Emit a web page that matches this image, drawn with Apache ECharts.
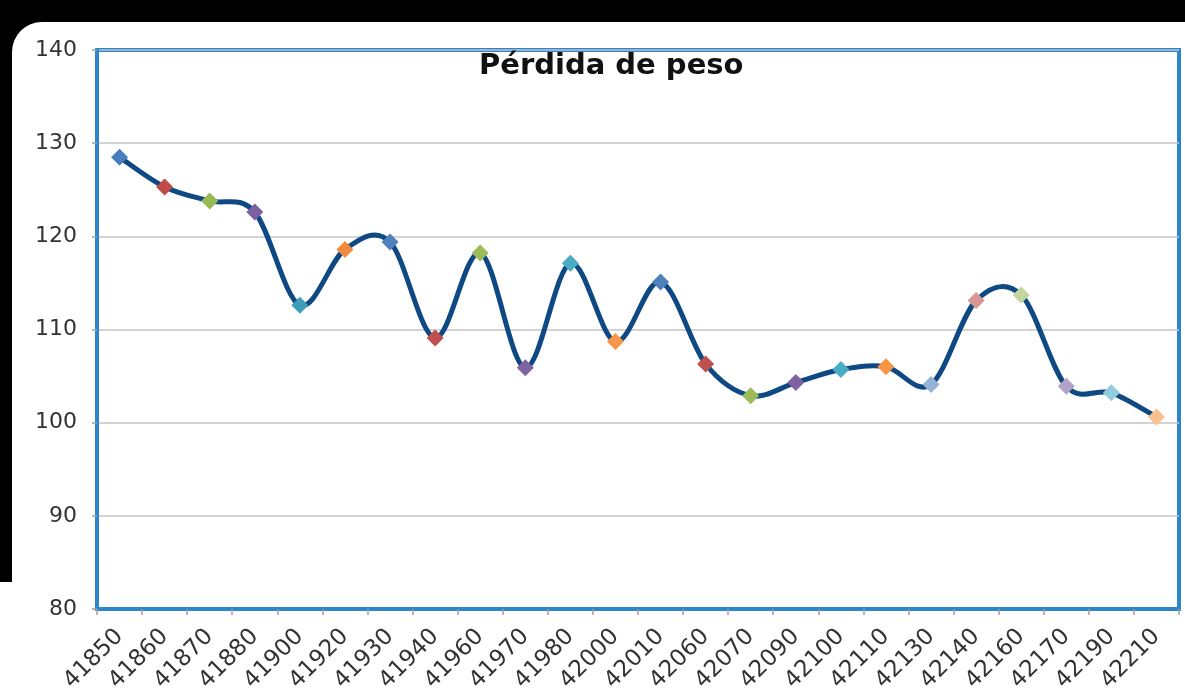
<!DOCTYPE html>
<html>
<head>
<meta charset="utf-8">
<script src="https://cdn.jsdelivr.net/npm/echarts@6/dist/echarts.min.js"></script>
<style>
html,body{margin:0;padding:0;background:#fff;}
#c{width:1185px;height:695px;}
</style>
</head>
<body>
<div id="c"></div>
<script>
const titleText = 'Pérdida de peso';
const categories = ['41850','41860','41870','41880','41900','41920','41930','41940','41960','41970','41980','42000','42010','42060','42070','42090','42100','42110','42130','42140','42160','42170','42190','42210'];
const weights = [128.5,125.3,123.8,122.6,112.6,118.6,119.4,109.1,118.2,105.9,117.1,108.7,115.1,106.3,102.9,104.3,105.7,106.0,104.1,113.1,113.7,103.9,103.2,100.6];
const yTicks = {min:80, max:140, interval:10};

const pointColors = ['#4A7EBB','#BE4B48','#98B954','#7D60A0','#3E9DB8','#F08A3C',
  '#4F81BD','#C0504D','#9BBB59','#8064A2','#4BACC6','#F79646',
  '#4F81BD','#C0504D','#9BBB59','#8064A2','#4BACC6','#F79646',
  '#95B3D7','#D99694','#C3D69B','#B3A2C7','#93CDDD','#FAC090'];

const chart = echarts.init(document.getElementById('c'));
const font = 'DejaVu Sans';

function smoothPath(params, api) {
  if (params.dataIndex !== 0) return null;
  const p = weights.map((v, i) => api.coord([i, v]));
  const n = p.length;
  let d = 'M' + p[0][0] + ' ' + p[0][1];
  for (let i = 0; i < n - 1; i++) {
    const p0 = p[Math.max(i - 1, 0)], p1 = p[i], p2 = p[i + 1], p3 = p[Math.min(i + 2, n - 1)];
    const c1x = p1[0] + (p2[0] - p0[0]) / 6, c1y = p1[1] + (p2[1] - p0[1]) / 6;
    const c2x = p2[0] - (p3[0] - p1[0]) / 6, c2y = p2[1] - (p3[1] - p1[1]) / 6;
    d += ' C' + c1x + ' ' + c1y + ' ' + c2x + ' ' + c2y + ' ' + p2[0] + ' ' + p2[1];
  }
  return {
    type: 'path',
    shape: { pathData: d },
    style: { fill: null, stroke: '#0F4984', lineWidth: 5, lineJoin: 'round', lineCap: 'round' }
  };
}

chart.setOption({
  animation:false,
  backgroundColor:'#fff',
  graphic:[
    {type:'rect', z:-10, silent:true, shape:{x:0,y:0,width:1185,height:22}, style:{fill:'#000'}},
    {type:'rect', z:-10, silent:true, shape:{x:0,y:0,width:12,height:582}, style:{fill:'#000'}},
    {type:'rect', z:-10, silent:true, shape:{x:0,y:0,width:50,height:60}, style:{fill:'#000'}},
    {type:'rect', z:-9, silent:true, shape:{x:12,y:22,width:1173,height:700,r:[30,0,0,0]}, style:{fill:'#fff'}}
  ],
  title:{
    text:titleText, left:479, top:52, padding:0,
    textStyle:{fontFamily:font, fontWeight:'bold', fontSize:29, color:'#111'}
  },
  grid:{left:97, top:50, right:6, bottom:85, show:true, borderColor:'#2B86CB', borderWidth:4, backgroundColor:'transparent'},
  xAxis:{
    type:'category', data:categories, boundaryGap:true,
    axisLine:{show:true, lineStyle:{color:'#2B86CB', width:4}},
    axisTick:{show:true, alignWithLabel:false, length:6, lineStyle:{color:'#A0A0A0', width:1.5}},
    axisLabel:{rotate:45, margin:24, interval:0, fontFamily:font, fontSize:23, color:'#333'},
    splitLine:{show:false}
  },
  yAxis:{
    type:'value', min:yTicks.min, max:yTicks.max, interval:yTicks.interval,
    axisLine:{show:true, lineStyle:{color:'#2B86CB', width:4}},
    axisTick:{show:true, length:5, lineStyle:{color:'#A0A0A0', width:1.5}},
    axisLabel:{margin:20, fontFamily:font, fontSize:22, color:'#333'},
    splitLine:{show:true, lineStyle:{color:'#C4C4C4', width:1.5}}
  },
  series:[{
    type:'custom',
    renderItem: smoothPath,
    data: weights.map((v, i) => [i, v]),
    silent:true,
    z:2
  },{
    type:'line',
    data:weights.map((v,i)=>({value:v, itemStyle:{color:pointColors[i % pointColors.length]}})),
    symbol:'diamond', symbolSize:17, showAllSymbol:true,
    lineStyle:{width:0, opacity:0},
    z:3
  }]
});
</script>
</body>
</html>
